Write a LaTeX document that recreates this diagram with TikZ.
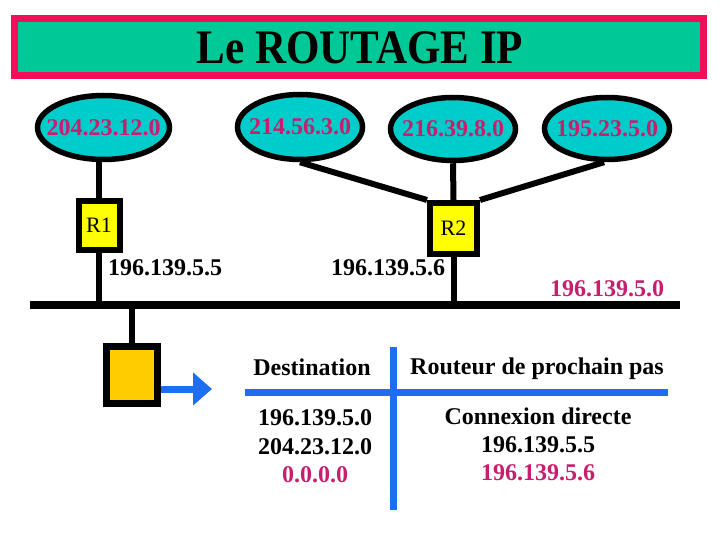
\documentclass[tikz,border=0pt]{standalone}
\usepackage{fontspec}
\setmainfont{Liberation Serif}
\usetikzlibrary{shapes.geometric,arrows.meta}
\definecolor{titlered}{RGB}{240,16,90}
\definecolor{titlegreen}{RGB}{0,200,150}
\definecolor{netcyan}{RGB}{0,204,204}
\definecolor{ipmag}{RGB}{200,30,110}
\definecolor{routeryellow}{RGB}{255,255,0}
\definecolor{hostorange}{RGB}{255,204,0}
\definecolor{lineblue}{RGB}{30,110,240}
\tikzset{
  net/.style={draw=black, fill=netcyan, ellipse, line width=5.5pt, inner sep=0pt},
  nettext/.style={text=ipmag, font=\fontsize{24}{26}\selectfont\bfseries, inner sep=0pt},
  router/.style={draw=black, fill=routeryellow, line width=6pt, inner sep=0pt,
    font=\fontsize{22}{24}\selectfont},
  iplabel/.style={font=\fontsize{24}{26}\selectfont\bfseries, inner sep=0pt},
  wire/.style={line width=6pt, black},
  bluebar/.style={line width=6.5pt, lineblue},
}
\begin{document}
\begin{tikzpicture}[x=1pt,y=-1pt]
\useasboundingbox (0,0) rectangle (720,540);
\fill[white] (0,0) rectangle (720,540);
% title
\node[draw=titlered, fill=titlegreen, line width=7pt, minimum width=688.5pt,
  minimum height=57.5pt, inner sep=0pt] (titlebox) at (358.75,47.25) {};
\node[font=\fontsize{43}{46}\selectfont\bfseries, inner sep=0pt] (title) at (360,48)
  {\scalebox{1}[1.12]{Le ROUTAGE IP}};
% networks
\node[net, minimum width=132pt, minimum height=64pt] (e1) at (103.5,127.5) {};
\node[nettext] (t1) at (e1) {204.23.12.0};
\node[net, minimum width=125pt, minimum height=65pt] (e2) at (300,127) {};
\node[nettext] (t2) at (e2) {214.56.3.0};
\node[net, minimum width=125pt, minimum height=63pt] (e3) at (453,129) {};
\node[nettext] (t3) at (e3) {216.39.8.0};
\node[net, minimum width=125pt, minimum height=62pt] (e4) at (607,128.5) {};
\node[nettext] (t4) at (e4) {195.23.5.0};
% routers
\node[router, minimum width=41pt, minimum height=49pt] (r1) at (99,225.5) {R1};
\node[router, minimum width=47pt, minimum height=51pt] (r2) at (453.5,228.5) {R2};
% bus
\coordinate (busL) at (30,305);
\coordinate (busR) at (680,305);
\draw[line width=8pt] (busL) -- (busR);
% connections
\draw[wire] (e1.south -| r1.north) -- (r1.north);
\draw[wire] (r1.south) -- (r1.south |- busL);
\draw[wire] (e2.south) -- (r2.north west);
\draw[wire] (e3.south) -- (r2.north);
\draw[wire] (e4.265) -- (r2.north east);
\draw[wire] (r2.south) -- (r2.south |- busL);
% interface labels
\node[iplabel] (ip1) at (165,268) {196.139.5.5};
\node[iplabel] (ip2) at (388,268) {196.139.5.6};
\node[iplabel, text=ipmag] (ip3) at (607,289) {196.139.5.0};
% host
\node[draw=black, fill=hostorange, line width=7pt, minimum width=51pt,
  minimum height=57pt, inner sep=0pt] (host) at (132,375) {};
\draw[wire] (host.north) -- (host.north |- busL);
\coordinate (arrowtip) at (212,389);
\draw[line width=7pt, lineblue, -{Triangle[length=19pt,width=32pt]}]
  ([yshift=-14pt]host.east) -- (arrowtip);
% table
\coordinate (hL) at (245,392.5);
\coordinate (hR) at (668,392.5);
\coordinate (vT) at (393.5,347);
\coordinate (vB) at (393.5,510);
\draw[bluebar] (hL) -- (hR);
\draw[bluebar, line width=7pt] (vT) -- (vB);
\node[iplabel] (h1) at (312,367) {Destination};
\node[iplabel] (h2) at (537,369) {Routeur de prochain pas};
\node[iplabel] (d1) at (315,418) {196.139.5.0};
\node[iplabel] (d2) at (315,447) {204.23.12.0};
\node[iplabel, text=ipmag] (d3) at (315,475) {0.0.0.0};
\node[iplabel] (n1) at (538,416) {Connexion directe};
\node[iplabel] (n2) at (538,445) {196.139.5.5};
\node[iplabel, text=ipmag] (n3) at (538,473) {196.139.5.6};
\end{tikzpicture}
\end{document}
